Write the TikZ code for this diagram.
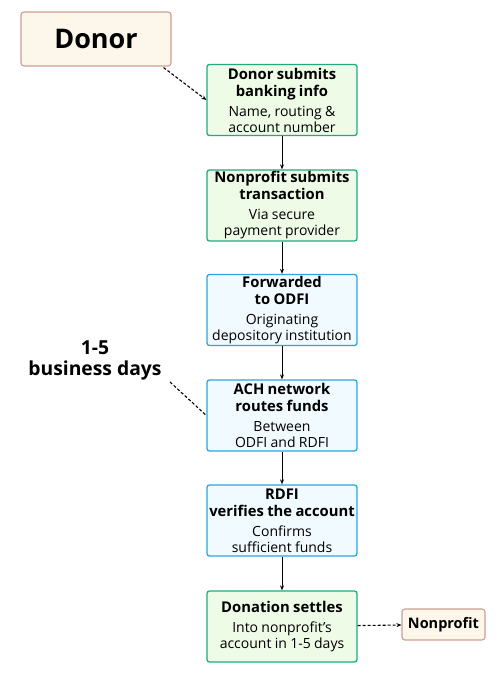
\documentclass[tikz,border=0pt]{standalone}
\usepackage{fontspec}
\setmainfont{Open Sans}
\usetikzlibrary{arrows.meta}

\definecolor{creamfill}{HTML}{FDF6EA}
\definecolor{creamline}{HTML}{C9A193}
\definecolor{greenfill}{HTML}{EEFBE6}
\definecolor{greenline}{HTML}{1FAA84}
\definecolor{bluefill}{HTML}{F1FAFE}
\definecolor{blueline}{HTML}{2AA7E0}

\tikzset{
  stepgreen/.style={draw=greenline, fill=greenfill, line width=1.3pt, rounded corners=2.5pt,
    minimum width=150pt, minimum height=71pt, text width=150pt, align=center, inner sep=0pt},
  stepblue/.style={stepgreen, draw=blueline, fill=bluefill},
  actor/.style={draw=creamline, fill=creamfill, line width=1.1pt, rounded corners=3pt, align=center},
  flow/.style={-{Stealth[length=5pt,width=4pt]}, line width=0.8pt},
  hint/.style={line width=1.1pt, dash pattern=on 3pt off 2pt},
}
\newcommand{\steptext}[2]{{\fontsize{14.8}{17}\selectfont\bfseries #1\par}\vspace{4pt}{\fontsize{14}{16}\selectfont #2\par}}

\begin{document}
\begin{tikzpicture}[x=1pt, y=1pt]
    \useasboundingbox[fill=white] (0,0) rectangle (500,675);

    % actors
    \node[actor, minimum width=150pt, minimum height=54pt, font=\fontsize{27}{30}\selectfont\bfseries] (donor) at (96,636) {Donor};
    \node[actor, minimum width=83pt, minimum height=31pt, font=\fontsize{14.5}{16}\selectfont\bfseries] (nonprofit) at (443.5,50.5) {Nonprofit};

    % steps
    \node[stepgreen] (bank) at (282,575) {\steptext{Donor submits\\banking info}{Name, routing \&\\account number}};
    \node[stepgreen] (submit) at (282,469.5) {\steptext{Nonprofit submits\\transaction}{Via secure\\payment provider}};
    \node[stepblue] (odfi) at (282,365) {\steptext{Forwarded\\to ODFI}{Originating\\depository institution}};
    \node[stepblue] (ach) at (282,259.5) {\steptext{ACH network\\routes funds}{Between\\ODFI and RDFI}};
    \node[stepblue] (rdfi) at (282,154.5) {\steptext{RDFI\\verifies the account}{Confirms\\sufficient funds}};
    \node[stepgreen] (settle) at (282,48.5) {\steptext{Donation settles}{Into nonprofit’s\\account in 1-5 days}};

    % timing note
    \node[align=center, font=\fontsize{19.3}{21}\selectfont\bfseries] (days) at (95,315) {1-5\\business days};
    \coordinate (daysend) at (170,293);

    % arrows
    \foreach \a/\b in {bank/submit, submit/odfi, odfi/ach, ach/rdfi, rdfi/settle}
        \draw[flow] (\a) -- (\b);
    \draw[flow, hint] (donor.south east) ++(-8pt,-1pt) coordinate (donorout) -- (bank.west);
    \draw[hint] (daysend) -- (ach.west);
    \draw[flow, hint] (settle) -- (nonprofit);
\end{tikzpicture}
\end{document}
